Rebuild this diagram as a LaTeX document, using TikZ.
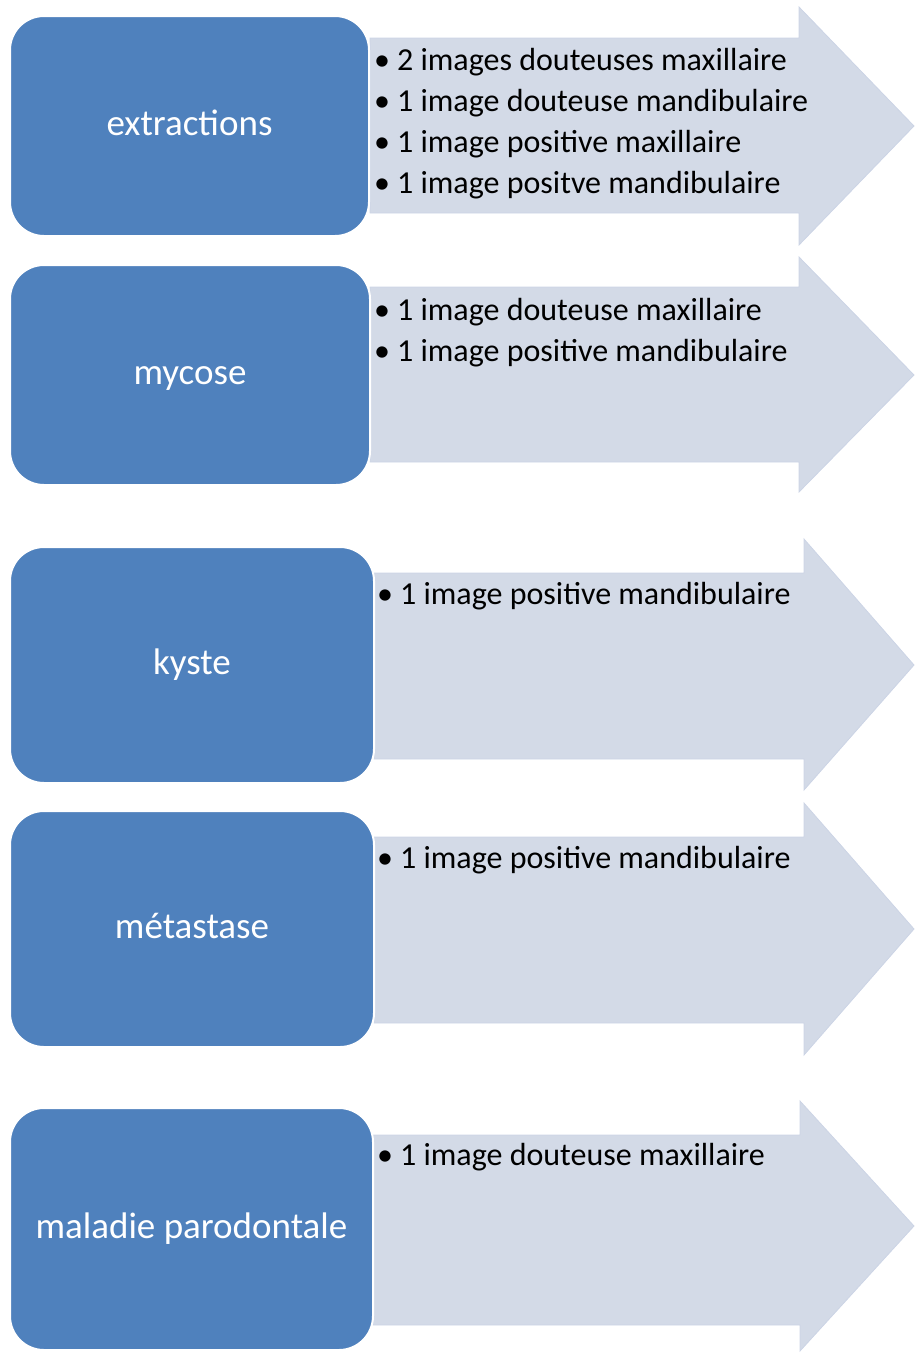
\documentclass[tikz,border=0pt]{standalone}
\usepackage{fontspec}
\setmainfont{Carlito}
\usetikzlibrary{positioning}
\definecolor{boxblue}{HTML}{4F81BD}
\definecolor{arrowgray}{HTML}{D3DAE7}
\definecolor{arrowedge}{HTML}{CCD4E5}

\begin{document}
\begin{tikzpicture}[x=1pt,y=-1pt,
  cat/.style={fill=boxblue, draw=white, line width=2pt, rounded corners=34pt,
    text=white, inner sep=0pt, text height=26pt, text depth=8pt,
    font=\fontsize{37}{44}\selectfont},
  item/.style={anchor=base west, inner sep=0pt, font=\fontsize{32}{38}\selectfont},
  shaft/.style={fill=arrowgray, draw=arrowedge, line width=0.8pt}]

\useasboundingbox (0,0) rectangle (914,1353);

% Arrows (drawn first, boxes sit on top)
\filldraw[shaft] (370,38) -- (799,38) -- (799,7) -- (914,126) -- (799,245)
  -- (799,213) -- (370,213) -- cycle;
\filldraw[shaft] (370,287) -- (799,287) -- (799,257) -- (914,375) -- (799,492)
  -- (799,462) -- (370,462) -- cycle;
\filldraw[shaft] (374,573) -- (804,573) -- (804,539) -- (914,665) -- (804,790)
  -- (804,759) -- (374,759) -- cycle;
\filldraw[shaft] (374,837) -- (804,837) -- (804,803) -- (914,929) -- (804,1055)
  -- (804,1023) -- (374,1023) -- cycle;
\filldraw[shaft] (373,1135) -- (800,1135) -- (800,1101) -- (914,1226) -- (800,1351)
  -- (800,1325) -- (373,1325) -- cycle;

% Categories
\node[cat, minimum width=359pt, minimum height=220pt] (extr) at (189.5,126) {extractions};
\node[cat, minimum width=360pt, minimum height=220pt] (myco) at (190,375) {mycose};
\node[cat, minimum width=364pt, minimum height=236pt] (kyst) at (192,665) {kyste};
\node[cat, minimum width=364pt, minimum height=236pt] (meta) at (192,929) {métastase};
\node[cat, minimum width=363pt, minimum height=242pt] (malp) at (191.5,1229) {maladie parodontale};

% Findings
\node[item] (extr1) at (374,70)  {•\hspace{7pt}2 images douteuses maxillaire};
\node[item] (extr2) at (374,111) {•\hspace{7pt}1 image douteuse mandibulaire};
\node[item] (extr3) at (374,152) {•\hspace{7pt}1 image positive maxillaire};
\node[item] (extr4) at (374,193) {•\hspace{7pt}1 image positve mandibulaire};

\node[item] (myco1) at (374,320) {•\hspace{7pt}1 image douteuse maxillaire};
\node[item] (myco2) at (374,361) {•\hspace{7pt}1 image positive mandibulaire};

\node[item] (kyst1) at (377,604) {•\hspace{7pt}1 image positive mandibulaire};
\node[item] (meta1) at (377,868) {•\hspace{7pt}1 image positive mandibulaire};
\node[item] (malp1) at (377,1165) {•\hspace{7pt}1 image douteuse maxillaire};

\end{tikzpicture}
\end{document}
